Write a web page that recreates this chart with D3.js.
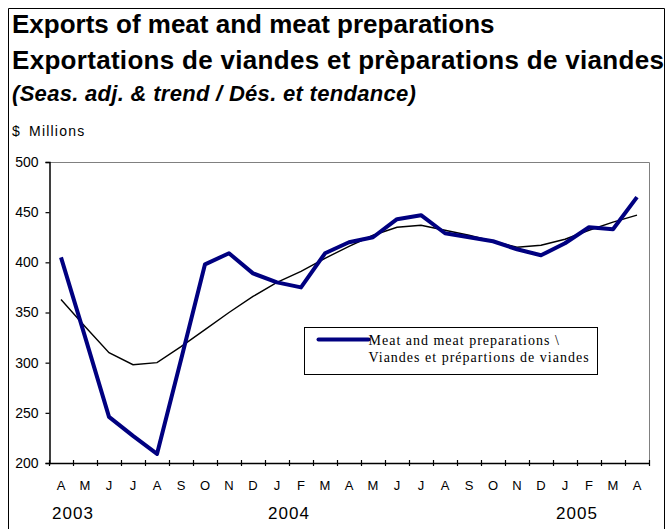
<!DOCTYPE html>
<html>
<head>
<meta charset="utf-8">
<script src="https://cdn.jsdelivr.net/npm/d3@7"></script>
<style>
  body { margin: 0; background: #fff; }
  svg { display: block; }
</style>
</head>
<body>
<svg id="chart" width="668" height="529"></svg>
<script>
// Apr 2003 .. Apr 2005
const months = ['A','M','J','J','A','S','O','N','D','J','F','M','A','M','J','J','A','S','O','N','D','J','F','M','A']
const years = [
  { label: '2003', index: 0 },
  { label: '2004', index: 9 },
  { label: '2005', index: 21 },
]
const seasAdj = [405, 326, 246, 227, 209, 303, 398, 409, 389, 380, 375, 409, 420, 425, 443, 447, 429, 425, 421, 413, 407, 419, 435, 433, 465]
const trend = [363, 336, 310, 298, 300, 316, 333, 350, 366, 380, 391, 404, 416, 427, 435, 437, 432, 427, 421, 415, 417, 423, 432, 440, 447]
const yTicks = [200, 250, 300, 350, 400, 450, 500]

const titles = [
  'Exports of meat and meat preparations',
  'Exportations de viandes et prèparations de viandes',
]
const subtitle = '(Seas. adj. & trend / Dés. et tendance)'
const unitLabel = '$ Millions'
const legendLines = ['Meat and meat preparations \\', 'Viandes et prépartions de viandes']

const svg = d3.select('#chart')
const sans = "'Liberation Sans', Arial, sans-serif"
const serif = "'Liberation Serif', 'Times New Roman', serif"

// outer frame (no bottom edge, it runs off the page)
svg.append('path')
    .attr('d', 'M8.5,529 V8.5 H664.5 V529')
    .attr('fill', 'none')
    .attr('stroke', '#000')

svg.selectAll('text.title')
    .data(titles)
  .join('text')
    .attr('class', 'title')
    .attr('x', 12)
    .attr('y', (d, i) => 33 + i * 36)
    .attr('font-family', sans)
    .attr('font-weight', 'bold')
    .attr('font-size', 26)
    .attr('letter-spacing', (d, i) => i ? 0.3 : 0)
    .text(d => d)

svg.append('text')
    .attr('x', 12)
    .attr('y', 101)
    .attr('font-family', sans)
    .attr('font-weight', 'bold')
    .attr('font-style', 'italic')
    .attr('font-size', 22)
    .attr('letter-spacing', 0.3)
    .text(subtitle)

svg.append('text')
    .attr('x', 12)
    .attr('y', 136)
    .attr('font-family', sans)
    .attr('font-size', 14)
    .attr('letter-spacing', 1.2)
    .attr('word-spacing', 3)
    .text(unitLabel)

// plot area
const plotLeft = 49, plotRight = 649, plotTop = 162, plotBottom = 463

const x = d3.scaleBand()
    .domain(d3.range(months.length))
    .range([plotLeft, plotRight])

const y = d3.scaleLinear()
    .domain([200, 500])
    .range([plotBottom, plotTop])

const cx = i => x(i) + x.bandwidth() / 2

svg.append('path')
    .attr('d', `M${plotLeft},${plotTop + 0.5} H${plotRight + 0.5} V${plotBottom}`)
    .attr('fill', 'none')
    .attr('stroke', '#808080')

// y axis
const yAxis = svg.append('g')
    .attr('transform', `translate(${plotLeft + 0.5},0)`)
    .call(d3.axisLeft(y).tickValues(yTicks).tickSize(4).tickPadding(7))

yAxis.select('.domain').attr('stroke', '#000').attr('stroke-width', 1.5)
yAxis.selectAll('.tick line').attr('stroke', '#000').attr('stroke-width', 1.2)
yAxis.selectAll('.tick text')
    .attr('font-family', sans)
    .attr('font-size', 14)
    .attr('fill', '#000')

// x axis: ticks on band edges
const xAxis = svg.append('g')
    .attr('class', 'x-axis')

xAxis.append('line')
    .attr('x1', plotLeft)
    .attr('x2', plotRight + 1)
    .attr('y1', plotBottom + 0.5)
    .attr('y2', plotBottom + 0.5)
    .attr('stroke', '#000')
    .attr('stroke-width', 1.5)

const edge = i => Math.round(i < months.length ? x(i) : x.range()[1]) + 0.5

xAxis.selectAll('line.tick')
    .data(d3.range(months.length + 1))
  .join('line')
    .attr('class', 'tick')
    .attr('x1', edge)
    .attr('x2', edge)
    .attr('y1', plotBottom - 3)
    .attr('y2', plotBottom + 3)
    .attr('stroke', '#000')
    .attr('stroke-width', 1.2)

xAxis.selectAll('text.month')
    .data(months)
  .join('text')
    .attr('class', 'month')
    .attr('x', (d, i) => cx(i))
    .attr('y', 490)
    .attr('text-anchor', 'middle')
    .attr('font-family', sans)
    .attr('font-size', 13)
    .text(d => d)

xAxis.selectAll('text.year')
    .data(years)
  .join('text')
    .attr('class', 'year')
    .attr('x', d => cx(d.index) + 12)
    .attr('y', 519)
    .attr('text-anchor', 'middle')
    .attr('font-family', sans)
    .attr('font-size', 17)
    .attr('letter-spacing', 1)
    .text(d => d.label)

// series
const line = d3.line()
    .x((d, i) => cx(i))
    .y(d => y(d))

svg.append('path')
    .datum(trend)
    .attr('fill', 'none')
    .attr('stroke', '#000')
    .attr('stroke-width', 1.4)
    .attr('d', line)

svg.append('path')
    .datum(seasAdj)
    .attr('fill', 'none')
    .attr('stroke', '#000080')
    .attr('stroke-width', 4)
    .attr('stroke-linejoin', 'round')
    .attr('d', line)

// legend
const legend = svg.append('g')
    .attr('transform', 'translate(304.5,327.5)')

legend.append('rect')
    .attr('width', 293)
    .attr('height', 47)
    .attr('fill', '#fff')
    .attr('stroke', '#000')

legend.append('line')
    .attr('x1', 14)
    .attr('x2', 64)
    .attr('y1', 12)
    .attr('y2', 12)
    .attr('stroke', '#000080')
    .attr('stroke-width', 4)
    .attr('stroke-linecap', 'round')

legend.selectAll('text')
    .data(legendLines)
  .join('text')
    .attr('x', 64)
    .attr('y', (d, i) => 17 + i * 17)
    .attr('font-family', serif)
    .attr('font-size', 14)
    .attr('letter-spacing', 1)
    .text(d => d)
</script>
</body>
</html>
